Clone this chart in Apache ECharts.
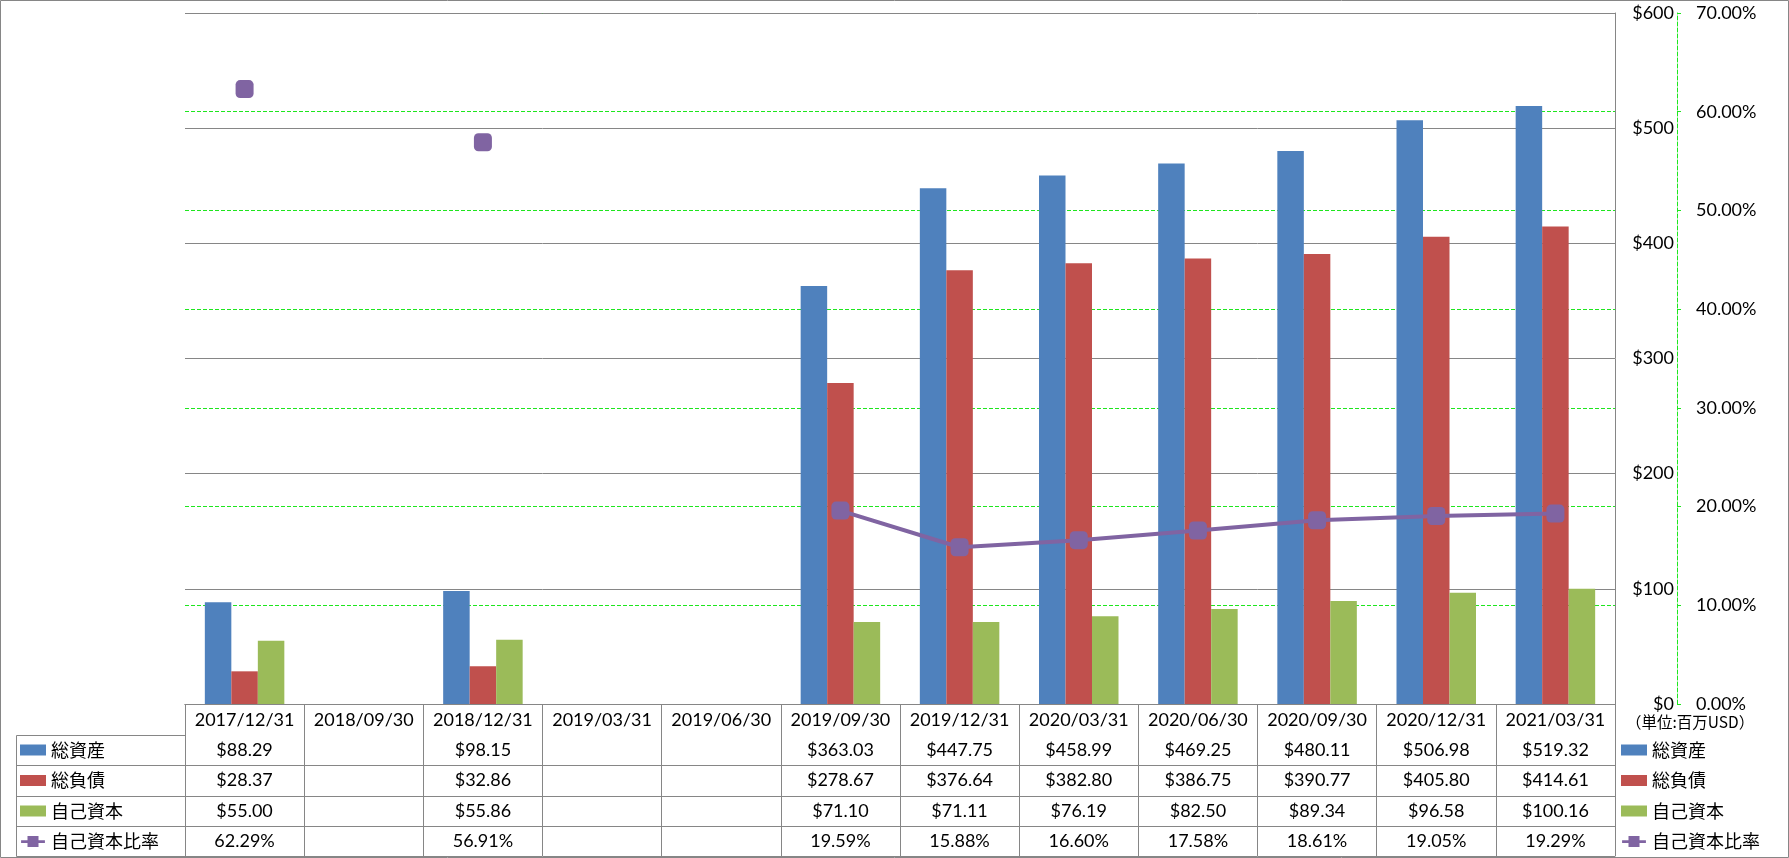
<!DOCTYPE html>
<html><head><meta charset="utf-8">
<script src="https://cdn.jsdelivr.net/npm/echarts@6/dist/echarts.min.js"></script>
<style>html,body{margin:0;padding:0;background:#fff}#c{width:1789px;height:858px}</style>
</head><body><div id="c"></div>
<script>
// ---- data ----
const categories = ['2017/12/31','2018/09/30','2018/12/31','2019/03/31','2019/06/30','2019/09/30','2019/12/31','2020/03/31','2020/06/30','2020/09/30','2020/12/31','2021/03/31'];
const totalAssets = [88.29,null,98.15,null,null,363.03,447.75,458.99,469.25,480.11,506.98,519.32];
const totalLiabilities = [28.37,null,32.86,null,null,278.67,376.64,382.80,386.75,390.77,405.80,414.61];
const equity = [55.00,null,55.86,null,null,71.10,71.11,76.19,82.50,89.34,96.58,100.16];
const equityRatio = [62.29,null,56.91,null,null,19.59,15.88,16.60,17.58,18.61,19.05,19.29];
const seriesNames = ['総資産','総負債','自己資本','自己資本比率'];
const unitLabel = '（単位:百万USD）';

// ---- styles ----
const GRAY = '#868686';
const GREEN = '#1ee61e';
const COLORS = ['#4F81BD','#C0504D','#9BBB59','#8064A2'];
const F = 'Lato, "Noto Sans CJK JP", sans-serif';
const FJ = '"Noto Sans CJK JP", sans-serif';
const LINE_ICON = 'path://M0,4.5H7V0H19V4.5H26V7.5H19V12H7V7.5H0Z';

const rows = [
  {values: totalAssets, fmt: v => '$' + v.toFixed(2)},
  {values: totalLiabilities, fmt: v => '$' + v.toFixed(2)},
  {values: equity, fmt: v => '$' + v.toFixed(2)},
  {values: equityRatio, fmt: v => v.toFixed(2) + '%'}
];
const rowOffsets = [31, 61, 92, 122];
const tableBottom = 152;

const labelStyle = {color:'#000', fontFamily:F, fontSize:18, lineHeight:20};

const xAxes = [
  {type:'category', data:categories, position:'bottom', z:3,
   axisLine:{show:true, lineStyle:{color:GRAY, width:1}},
   axisTick:{show:true, interval:0, length:tableBottom, lineStyle:{color:GRAY, width:1}},
   axisLabel:Object.assign({interval:0, margin:6}, labelStyle),
   splitLine:{show:false}}
];
rows.forEach((r, i) => {
  xAxes.push({type:'category', data:categories, position:'bottom', offset:rowOffsets[i],
    axisLine:{show:true, lineStyle:{color:GRAY, width:1}},
    axisTick:{show:false}, splitLine:{show:false},
    axisLabel:Object.assign({interval:0, margin:5,
      formatter:(val, idx) => r.values[idx] == null ? '' : r.fmt(r.values[idx])}, labelStyle)});
});
xAxes.push({type:'category', data:categories, position:'bottom', offset:tableBottom,
  axisLine:{show:true, lineStyle:{color:GRAY, width:1}}, axisTick:{show:false},
  axisLabel:{show:false}, splitLine:{show:false}});

const legendData = seriesNames.map((n, i) => i === 3
  ? {name:n, icon:LINE_ICON, itemStyle:{color:COLORS[3], borderWidth:0}}
  : {name:n, icon:'rect'});

const legendBase = {orient:'vertical', top:740, padding:0, itemGap:10.5, itemWidth:26, itemHeight:11,
  selectedMode:false, data:legendData,
  textStyle:{color:'#000', fontFamily:FJ, fontSize:18, lineHeight:20}};

const chart = echarts.init(document.getElementById('c'), null, {renderer:'canvas'});
chart.setOption({
  animation:false,
  backgroundColor:'#fff',
  grid:{left:185, right:174, top:13, bottom:154, containLabel:false, outerBoundsMode:'none'},
  legend:[
    Object.assign({left:20}, legendBase),
    Object.assign({left:1621}, legendBase)
  ],
  xAxis:xAxes,
  yAxis:[
    {type:'value', position:'right', min:0, max:600, interval:100, z:1,
     axisLine:{show:true, lineStyle:{color:GRAY, width:1}}, axisTick:{show:false},
     axisLabel:{margin:59, align:'right', formatter:v => '$' + v, color:'#000', fontFamily:F, fontSize:18},
     splitLine:{show:true, lineStyle:{color:GRAY, width:1}}},
    {type:'value', position:'right', offset:62, min:0, max:70, interval:10, z:0,
     axisLine:{show:true, lineStyle:{color:GREEN, width:1, type:[4,2]}},
     axisTick:{show:true, length:4, lineStyle:{color:GREEN, width:1}},
     axisLabel:{margin:19, formatter:v => v.toFixed(2) + '%', color:'#000', fontFamily:F, fontSize:18},
     splitLine:{show:true, lineStyle:{color:GREEN, width:1, type:[4,2]}}}
  ],
  series:[
    {name:seriesNames[0], type:'bar', data:totalAssets, barWidth:26.5, barGap:'0%', itemStyle:{color:COLORS[0]}},
    {name:seriesNames[1], type:'bar', data:totalLiabilities, barWidth:26.5, barGap:'0%', itemStyle:{color:COLORS[1]}},
    {name:seriesNames[2], type:'bar', data:equity, barWidth:26.5, barGap:'0%', itemStyle:{color:COLORS[2]}},
    {name:seriesNames[3], type:'line', yAxisIndex:1, data:equityRatio, connectNulls:false,
     symbol:'roundRect', symbolSize:18, showSymbol:true, showAllSymbol:true, z:5,
     lineStyle:{color:COLORS[3], width:4}, itemStyle:{color:COLORS[3]}}
  ],
  graphic:[
    {type:'rect', shape:{x:0.5, y:0.5, width:1788, height:857}, style:{fill:null, stroke:GRAY, lineWidth:1}, silent:true},
    {type:'polyline', shape:{points:[[185,735.5],[16.5,735.5],[16.5,856.5],[185,856.5]]}, style:{fill:null, stroke:GRAY, lineWidth:1}, silent:true},
    {type:'line', shape:{x1:16.5, y1:765.5, x2:185, y2:765.5}, style:{stroke:GRAY, lineWidth:1}, silent:true},
    {type:'line', shape:{x1:16.5, y1:796.5, x2:185, y2:796.5}, style:{stroke:GRAY, lineWidth:1}, silent:true},
    {type:'line', shape:{x1:16.5, y1:826.5, x2:185, y2:826.5}, style:{stroke:GRAY, lineWidth:1}, silent:true},
    {type:'text', left:1626, top:714, style:{text:unitLabel, fill:'#000', font:'15.5px ' + FJ}, silent:true}
  ]
});
</script>
</body></html>
